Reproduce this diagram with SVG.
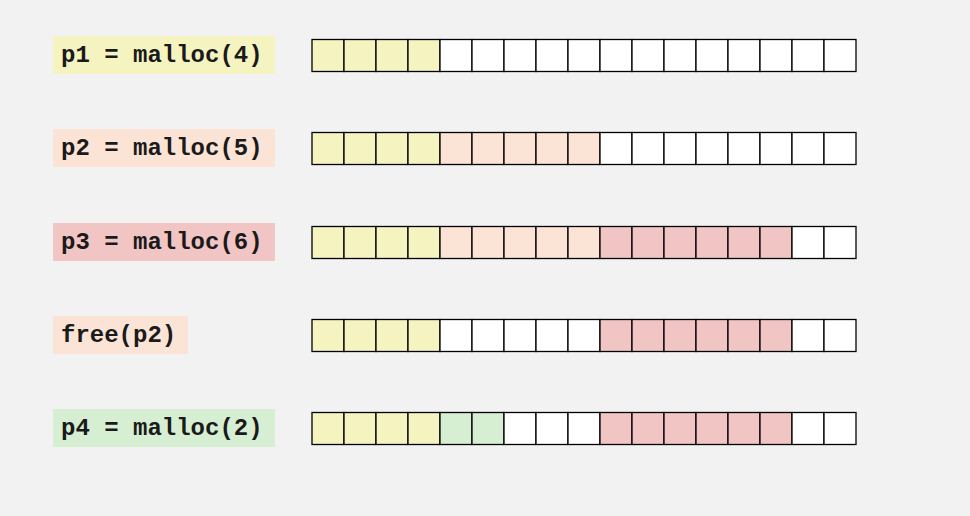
<svg xmlns="http://www.w3.org/2000/svg" width="970" height="516" viewBox="0 0 970 516">
<style>
.bg{fill:#f2f2f2}
.lbl{font-family:"Liberation Mono","Courier New",monospace;font-weight:bold;font-size:24px;fill:#1a1a1a}
.c{stroke:#000;stroke-width:1.3}
.w{fill:#ffffff}
.y{fill:#f5f4c1}
.o{fill:#fbe3d5}
.r{fill:#f2c5c5}
.g{fill:#d6efd2}
</style>
<rect class="bg" x="0" y="0" width="970" height="516"/>
<g id="row1">
<rect class="y" x="53" y="36" width="222" height="38"/>
<text class="lbl" x="61" y="62">p1 = malloc(4)</text>
<g class="c">
<rect class="y" x="312" y="39.5" width="32" height="32"/><rect class="y" x="344" y="39.5" width="32" height="32"/><rect class="y" x="376" y="39.5" width="32" height="32"/><rect class="y" x="408" y="39.5" width="32" height="32"/>
<rect class="w" x="440" y="39.5" width="32" height="32"/><rect class="w" x="472" y="39.5" width="32" height="32"/><rect class="w" x="504" y="39.5" width="32" height="32"/><rect class="w" x="536" y="39.5" width="32" height="32"/><rect class="w" x="568" y="39.5" width="32" height="32"/>
<rect class="w" x="600" y="39.5" width="32" height="32"/><rect class="w" x="632" y="39.5" width="32" height="32"/><rect class="w" x="664" y="39.5" width="32" height="32"/><rect class="w" x="696" y="39.5" width="32" height="32"/><rect class="w" x="728" y="39.5" width="32" height="32"/><rect class="w" x="760" y="39.5" width="32" height="32"/>
<rect class="w" x="792" y="39.5" width="32" height="32"/><rect class="w" x="824" y="39.5" width="32" height="32"/>
</g>
</g>
<g id="row2">
<rect class="o" x="53" y="129" width="222" height="38"/>
<text class="lbl" x="61" y="155">p2 = malloc(5)</text>
<g class="c">
<rect class="y" x="312" y="132.5" width="32" height="32"/><rect class="y" x="344" y="132.5" width="32" height="32"/><rect class="y" x="376" y="132.5" width="32" height="32"/><rect class="y" x="408" y="132.5" width="32" height="32"/>
<rect class="o" x="440" y="132.5" width="32" height="32"/><rect class="o" x="472" y="132.5" width="32" height="32"/><rect class="o" x="504" y="132.5" width="32" height="32"/><rect class="o" x="536" y="132.5" width="32" height="32"/><rect class="o" x="568" y="132.5" width="32" height="32"/>
<rect class="w" x="600" y="132.5" width="32" height="32"/><rect class="w" x="632" y="132.5" width="32" height="32"/><rect class="w" x="664" y="132.5" width="32" height="32"/><rect class="w" x="696" y="132.5" width="32" height="32"/><rect class="w" x="728" y="132.5" width="32" height="32"/><rect class="w" x="760" y="132.5" width="32" height="32"/>
<rect class="w" x="792" y="132.5" width="32" height="32"/><rect class="w" x="824" y="132.5" width="32" height="32"/>
</g>
</g>
<g id="row3">
<rect class="r" x="53" y="223" width="222" height="38"/>
<text class="lbl" x="61" y="249">p3 = malloc(6)</text>
<g class="c">
<rect class="y" x="312" y="226.5" width="32" height="32"/><rect class="y" x="344" y="226.5" width="32" height="32"/><rect class="y" x="376" y="226.5" width="32" height="32"/><rect class="y" x="408" y="226.5" width="32" height="32"/>
<rect class="o" x="440" y="226.5" width="32" height="32"/><rect class="o" x="472" y="226.5" width="32" height="32"/><rect class="o" x="504" y="226.5" width="32" height="32"/><rect class="o" x="536" y="226.5" width="32" height="32"/><rect class="o" x="568" y="226.5" width="32" height="32"/>
<rect class="r" x="600" y="226.5" width="32" height="32"/><rect class="r" x="632" y="226.5" width="32" height="32"/><rect class="r" x="664" y="226.5" width="32" height="32"/><rect class="r" x="696" y="226.5" width="32" height="32"/><rect class="r" x="728" y="226.5" width="32" height="32"/><rect class="r" x="760" y="226.5" width="32" height="32"/>
<rect class="w" x="792" y="226.5" width="32" height="32"/><rect class="w" x="824" y="226.5" width="32" height="32"/>
</g>
</g>
<g id="row4">
<rect class="o" x="53" y="316" width="135" height="38"/>
<text class="lbl" x="61" y="342">free(p2)</text>
<g class="c">
<rect class="y" x="312" y="319.5" width="32" height="32"/><rect class="y" x="344" y="319.5" width="32" height="32"/><rect class="y" x="376" y="319.5" width="32" height="32"/><rect class="y" x="408" y="319.5" width="32" height="32"/>
<rect class="w" x="440" y="319.5" width="32" height="32"/><rect class="w" x="472" y="319.5" width="32" height="32"/><rect class="w" x="504" y="319.5" width="32" height="32"/><rect class="w" x="536" y="319.5" width="32" height="32"/><rect class="w" x="568" y="319.5" width="32" height="32"/>
<rect class="r" x="600" y="319.5" width="32" height="32"/><rect class="r" x="632" y="319.5" width="32" height="32"/><rect class="r" x="664" y="319.5" width="32" height="32"/><rect class="r" x="696" y="319.5" width="32" height="32"/><rect class="r" x="728" y="319.5" width="32" height="32"/><rect class="r" x="760" y="319.5" width="32" height="32"/>
<rect class="w" x="792" y="319.5" width="32" height="32"/><rect class="w" x="824" y="319.5" width="32" height="32"/>
</g>
</g>
<g id="row5">
<rect class="g" x="53" y="409" width="222" height="38"/>
<text class="lbl" x="61" y="435">p4 = malloc(2)</text>
<g class="c">
<rect class="y" x="312" y="412.5" width="32" height="32"/><rect class="y" x="344" y="412.5" width="32" height="32"/><rect class="y" x="376" y="412.5" width="32" height="32"/><rect class="y" x="408" y="412.5" width="32" height="32"/>
<rect class="g" x="440" y="412.5" width="32" height="32"/><rect class="g" x="472" y="412.5" width="32" height="32"/><rect class="w" x="504" y="412.5" width="32" height="32"/><rect class="w" x="536" y="412.5" width="32" height="32"/><rect class="w" x="568" y="412.5" width="32" height="32"/>
<rect class="r" x="600" y="412.5" width="32" height="32"/><rect class="r" x="632" y="412.5" width="32" height="32"/><rect class="r" x="664" y="412.5" width="32" height="32"/><rect class="r" x="696" y="412.5" width="32" height="32"/><rect class="r" x="728" y="412.5" width="32" height="32"/><rect class="r" x="760" y="412.5" width="32" height="32"/>
<rect class="w" x="792" y="412.5" width="32" height="32"/><rect class="w" x="824" y="412.5" width="32" height="32"/>
</g>
</g>
</svg>
